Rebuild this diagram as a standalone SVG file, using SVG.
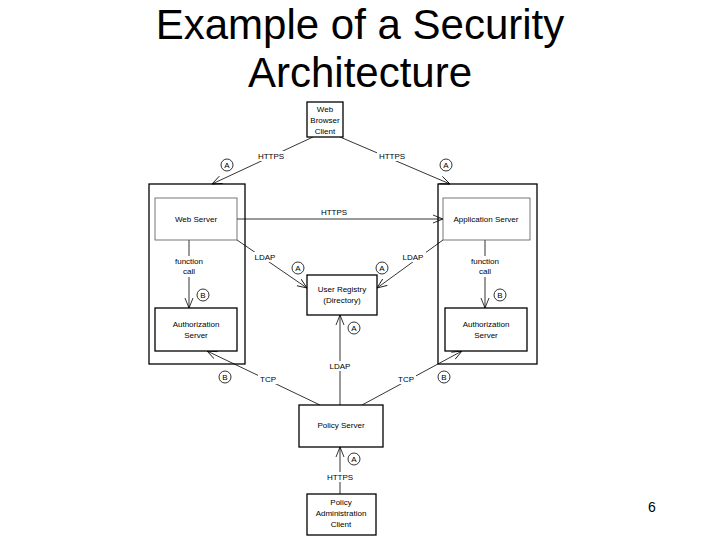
<svg xmlns="http://www.w3.org/2000/svg" width="720" height="540" viewBox="0 0 720 540">
<style>
.t{font-family:"Liberation Sans",Arial,sans-serif;fill:#000}
.s{font-size:8px;text-anchor:middle}
.box{fill:#fff;stroke:#000;stroke-width:1.3}
.in{fill:#fff;stroke:#555;stroke-width:0.8}
.c{stroke:#000;stroke-width:0.8;fill:none}
.ci{fill:#fff;stroke:#000;stroke-width:0.8}
.lb{fill:#fff}
</style>
<defs>
<marker id="ah" viewBox="0 0 10 10" refX="10" refY="5" markerWidth="10" markerHeight="10" orient="auto" markerUnits="userSpaceOnUse">
<path d="M0,1 L10,5 L0,9" fill="none" stroke="#000" stroke-width="0.8"/>
</marker>
</defs>
<rect width="720" height="540" fill="#fff"/>
<text class="t" x="360" y="39" font-size="42" text-anchor="middle">Example of a Security</text>
<text class="t" x="360" y="87" font-size="42" text-anchor="middle">Architecture</text>
<g id="containerL"><rect class="box" x="149" y="184" width="96" height="180"/></g>
<g id="containerR"><rect class="box" x="438" y="184" width="99" height="180"/></g>
<g id="connectors">
<line class="c" x1="313" y1="137" x2="212" y2="184" marker-end="url(#ah)"/>
<line class="c" x1="340" y1="137" x2="450" y2="184" marker-end="url(#ah)"/>
<line class="c" x1="237" y1="219" x2="443" y2="219" marker-end="url(#ah)"/>
<line class="c" x1="237" y1="240" x2="307" y2="288" marker-end="url(#ah)"/>
<line class="c" x1="443" y1="240" x2="377" y2="288" marker-end="url(#ah)"/>
<line class="c" x1="189" y1="240" x2="189" y2="308" marker-end="url(#ah)"/>
<line class="c" x1="485" y1="240" x2="485" y2="308" marker-end="url(#ah)"/>
<line class="c" x1="340" y1="405" x2="340" y2="315" stroke-width="1.6" marker-end="url(#ah)"/>
<line class="c" x1="320" y1="405" x2="207" y2="351" marker-end="url(#ah)"/>
<line class="c" x1="362" y1="405" x2="462" y2="351" marker-end="url(#ah)"/>
<line class="c" x1="340" y1="494" x2="340" y2="447" stroke-width="1.6" marker-end="url(#ah)"/>
<rect class="lb" x="256" y="151" width="30" height="10"/><text class="t s" x="271" y="159">HTTPS</text>
<rect class="lb" x="377" y="151" width="30" height="10"/><text class="t s" x="392" y="159">HTTPS</text>
<rect class="lb" x="318" y="208" width="32" height="10"/><text class="t s" x="334" y="215">HTTPS</text>
<rect class="lb" x="252" y="252" width="26" height="10"/><text class="t s" x="265" y="260">LDAP</text>
<rect class="lb" x="400" y="252" width="26" height="10"/><text class="t s" x="413" y="260">LDAP</text>
<rect class="lb" x="173" y="256" width="32" height="21"/><text class="t s" x="189" y="264">function</text><text class="t s" x="189" y="274">call</text>
<rect class="lb" x="469" y="256" width="32" height="21"/><text class="t s" x="485" y="264">function</text><text class="t s" x="485" y="274">call</text>
<rect class="lb" x="327" y="361" width="26" height="10"/><text class="t s" x="340" y="369">LDAP</text>
<rect class="lb" x="258" y="374" width="20" height="10"/><text class="t s" x="268" y="382">TCP</text>
<rect class="lb" x="396" y="374" width="20" height="10"/><text class="t s" x="406" y="382">TCP</text>
<rect class="lb" x="325" y="472" width="30" height="10"/><text class="t s" x="340" y="480">HTTPS</text>
</g>
<g id="badges">
<circle class="ci" cx="227" cy="165" r="6"/><text class="t s" x="227" y="168">A</text>
<circle class="ci" cx="446" cy="165" r="6"/><text class="t s" x="446" y="168">A</text>
<circle class="ci" cx="298" cy="268" r="6"/><text class="t s" x="298" y="271">A</text>
<circle class="ci" cx="382" cy="268" r="6"/><text class="t s" x="382" y="271">A</text>
<circle class="ci" cx="203" cy="295" r="6"/><text class="t s" x="203" y="298">B</text>
<circle class="ci" cx="500" cy="295" r="6"/><text class="t s" x="500" y="298">B</text>
<circle class="ci" cx="354" cy="328" r="6"/><text class="t s" x="354" y="331">A</text>
<circle class="ci" cx="225" cy="377" r="6"/><text class="t s" x="225" y="380">B</text>
<circle class="ci" cx="444" cy="377" r="6"/><text class="t s" x="444" y="380">B</text>
<circle class="ci" cx="354" cy="459" r="6"/><text class="t s" x="354" y="462">A</text>
</g>
<g id="wbc"><rect class="box" x="307" y="102" width="36" height="35"/><text class="t s" x="325" y="112">Web</text><text class="t s" x="325" y="123">Browser</text><text class="t s" x="325" y="134">Client</text></g>
<g id="webserver"><rect class="in" x="155" y="198" width="82" height="42"/><text class="t s" x="196" y="222">Web Server</text></g>
<g id="appserver"><rect class="in" x="443" y="198" width="87" height="42"/><text class="t s" x="486" y="222">Application Server</text></g>
<g id="authL"><rect class="box" x="155" y="308" width="82" height="43"/><text class="t s" x="196" y="327">Authorization</text><text class="t s" x="196" y="338">Server</text></g>
<g id="authR"><rect class="box" x="445" y="308" width="82" height="43"/><text class="t s" x="486" y="327">Authorization</text><text class="t s" x="486" y="338">Server</text></g>
<g id="registry"><rect class="box" x="307" y="275" width="70" height="40"/><text class="t s" x="342" y="292">User Registry</text><text class="t s" x="342" y="303">(Directory)</text></g>
<g id="policy"><rect class="box" x="299" y="405" width="84" height="42"/><text class="t s" x="341" y="428">Policy Server</text></g>
<g id="pac"><rect class="box" x="307" y="494" width="69" height="41"/><text class="t s" x="341" y="505">Policy</text><text class="t s" x="341" y="516">Administration</text><text class="t s" x="341" y="527">Client</text></g>
<text class="t" x="652" y="512" font-size="14" text-anchor="middle">6</text>
</svg>
